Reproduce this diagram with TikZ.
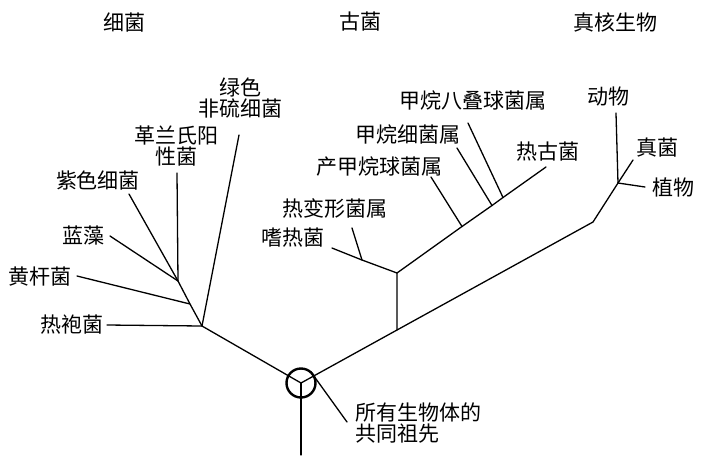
\documentclass[tikz,border=0pt]{standalone}
\usepackage{fontspec}
\newfontfamily\cjk{Noto Sans CJK SC}
\begin{document}
\begin{tikzpicture}[x=1pt,y=-1pt,
  lbl/.style={font=\cjk\fontsize{21}{20.5}\selectfont, inner sep=0pt, align=center},
  branch/.style={line width=1.3pt, line cap=round, line join=round},
  origin/.style={circle, draw, line width=2.4pt, minimum size=29pt, inner sep=0pt}]
\useasboundingbox (0,0) rectangle (702,459);

% group headings
\node[lbl] (hb) at (124,22) {细菌};
\node[lbl] (ha) at (360,22) {古菌};
\node[lbl] (he) at (615,22) {真核生物};

% bacteria labels
\node[lbl] (green) at (240,98) {绿色\\非硫细菌};
\node[lbl] (gram) at (176,146) {革兰氏阳\\性菌};
\node[lbl] (purple) at (98,180) {紫色细菌};
\node[lbl] (cyano) at (83,236) {蓝藻};
\node[lbl] (flavo) at (40,277) {黄杆菌};
\node[lbl] (thermo) at (72,325) {热袍菌};

% archaea labels
\node[lbl] (tproteus) at (335,208) {热变形菌属};
\node[lbl] (tphilus) at (293,238) {嗜热菌};
\node[lbl] (mcoccus) at (379,167) {产甲烷球菌属};
\node[lbl] (mbact) at (408,135) {甲烷细菌属};
\node[lbl] (msarc) at (473,101) {甲烷八叠球菌属};
\node[lbl] (tcoccus) at (548,152) {热古菌};

% eukaryote labels
\node[lbl] (animal) at (608,97) {动物};
\node[lbl] (fungi) at (657,148) {真菌};
\node[lbl] (plant) at (673,187) {植物};

% common ancestor
\node[origin] (root) at (301,383) {};
\node[lbl, align=left, anchor=north west] (luca) at (355,403) {所有生物体的\\共同祖先};

% junctions
\coordinate (trunk) at (301,455);
\coordinate (bac) at (202,326);
\coordinate (b1) at (190,304);
\coordinate (b2) at (178,281);
\coordinate (a0) at (397,330);
\coordinate (a1) at (397,273);
\coordinate (h1) at (362,260);
\coordinate (m1) at (462,226.5);
\coordinate (m2) at (492,205.5);
\coordinate (m3) at (503,197.5);
\coordinate (e0) at (593,222);
\coordinate (e1) at (618,183);

% free ends of the leaf branches
\coordinate (tgreen) at (239,135);
\coordinate (tgram) at (177,173);
\coordinate (tpurple) at (129,194);
\coordinate (tcyano) at (110,236);
\coordinate (tflavo) at (77,276);
\coordinate (tthermo) at (107,325);
\coordinate (ttproteus) at (352,228);
\coordinate (ttphilus) at (332,248);
\coordinate (tmcoccus) at (431,177);
\coordinate (tmbact) at (457,148);
\coordinate (tmsarc) at (468,123);
\coordinate (ttcoccus) at (546,167);
\coordinate (tanimal) at (616,113);
\coordinate (tfungi) at (633,160);
\coordinate (tplant) at (645,187);
\coordinate (tluca) at (347,422);

% bacteria
\draw[branch] (root.center) -- (bac) -- (b1) -- (b2) -- (tpurple);
\draw[branch] (bac) -- (tthermo);
\draw[branch] (bac) -- (tgreen);
\draw[branch] (b1) -- (tflavo);
\draw[branch] (b2) -- (tcyano);
\draw[branch] (b2) -- (tgram);

% archaea
\draw[branch] (root.center) -- (a0) -- (e0) -- (e1);
\draw[branch] (a0) -- (a1) -- (h1) -- (ttphilus);
\draw[branch] (h1) -- (ttproteus);
\draw[branch] (a1) -- (m1) -- (m2) -- (m3) -- (ttcoccus);
\draw[branch] (m1) -- (tmcoccus);
\draw[branch] (m2) -- (tmbact);
\draw[branch] (m3) -- (tmsarc);

% eukaryotes
\draw[branch] (e1) -- (tanimal);
\draw[branch] (e1) -- (tfungi);
\draw[branch] (e1) -- (tplant);

% trunk and ancestor pointer
\draw[branch] (root.center) -- (trunk);
\draw[branch] (root) ++(-50:15) -- (tluca);
\end{tikzpicture}
\end{document}
